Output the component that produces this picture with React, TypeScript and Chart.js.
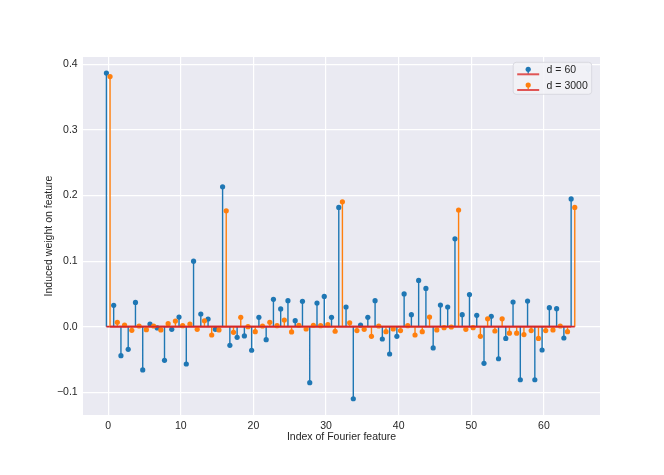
import React, { useEffect, useRef } from "react";
import { Chart, registerables } from "chart.js";

Chart.register(...registerables);

const seriesLabels = ["d = 60", "d = 3000"];
const colors = ["#1f77b4", "#ff7f0e"];
const baselineColor = "#d62728";
const xOffsets = [-0.25, 0.25];

const valuesD60 = [
  0.387, 0.0325, -0.0442, -0.0346, 0.037, -0.066, 0.004, -0.002, -0.0513, -0.004,
  0.0147, -0.057, 0.1, 0.0193, 0.0117, -0.004, 0.2134, -0.0285, -0.0163, -0.0142,
  -0.036, 0.0142, -0.0198, 0.0417, 0.027, 0.0396, 0.0091, 0.0386, -0.0854, 0.036,
  0.0462, 0.0142, 0.182, 0.03, -0.11, 0.0025, 0.0142, 0.0396, -0.0188, -0.0417,
  -0.0147, 0.05, 0.0183, 0.0706, 0.0584, -0.0325, 0.033, 0.03, 0.134, 0.0183,
  0.049, 0.0173, -0.056, 0.0158, -0.049, -0.018, 0.0376, -0.081, 0.039, -0.081,
  -0.0356, 0.029, 0.0274, -0.0173, 0.195,
];

const valuesD3000 = [
  0.3817, 0.0066, 0.0025, -0.0056, 0.001, -0.0046, 0.001, -0.005, 0.0046, 0.0086,
  0.0015, 0.004, -0.004, 0.009, -0.0127, -0.005, 0.1768, -0.0086, 0.0142, 0.0,
  -0.0076, 0.001, 0.0066, 0.0015, 0.0102, -0.0081, 0.002, -0.0036, 0.002, 0.0015,
  0.003, -0.007, 0.1905, 0.006, -0.006, -0.004, -0.0147, 0.001, -0.0076, -0.0036,
  -0.006, 0.0015, -0.0127, -0.0076, 0.0147, -0.005, -0.0015, -0.0005, 0.178, -0.004,
  -0.0015, -0.0147, 0.012, -0.0066, 0.012, -0.01, -0.01, -0.012, -0.006, -0.018,
  -0.006, -0.005, 0.001, -0.0076, 0.182,
];

const xTicks = [0, 10, 20, 30, 40, 50, 60];
const yTicks = [-0.1, 0, 0.1, 0.2, 0.3, 0.4];
const xRange = [-3.475, 67.725];
const yRange = [-0.1348, 0.4115];
const xTitle = "Index of Fourier feature";
const yTitle = "Induced weight on feature";

const FONT = "'Liberation Sans', Arial, sans-serif";
const TEXT = "#262626";

const bgPlugin = {
  id: "axesBg",
  beforeDraw(chart: any) {
    const { ctx, chartArea } = chart;
    ctx.save();
    ctx.fillStyle = "#EAEAF2";
    ctx.fillRect(chartArea.left, chartArea.top, chartArea.right - chartArea.left, chartArea.bottom - chartArea.top);
    ctx.restore();
  },
};

const legendPlugin = {
  id: "stemLegend",
  afterDraw(chart: any) {
    const { ctx, chartArea } = chart;
    const w = 78.5;
    const h = 32;
    const x0 = chartArea.right - 8.3 - w;
    const y0 = chartArea.top + 5.3;
    ctx.save();
    ctx.beginPath();
    ctx.roundRect(x0, y0, w, h, 3);
    ctx.fillStyle = "rgba(242,242,247,0.85)";
    ctx.fill();
    ctx.strokeStyle = "#D3D3DA";
    ctx.lineWidth = 0.8;
    ctx.stroke();
    seriesLabels.forEach((label, i) => {
      const cy = y0 + 8 + i * 15.7;
      const lx0 = x0 + 4;
      const lx1 = x0 + 26;
      const mx = (lx0 + lx1) / 2;
      ctx.strokeStyle = colors[i];
      ctx.lineWidth = 1.3;
      ctx.beginPath();
      ctx.moveTo(mx, cy - 1);
      ctx.lineTo(mx, cy + 4);
      ctx.stroke();
      ctx.strokeStyle = "#e05555";
      ctx.lineWidth = 2;
      ctx.beginPath();
      ctx.moveTo(lx0, cy + 4);
      ctx.lineTo(lx1, cy + 4);
      ctx.stroke();
      ctx.fillStyle = colors[i];
      ctx.beginPath();
      ctx.arc(mx, cy - 1, 2.6, 0, Math.PI * 2);
      ctx.fill();
      ctx.fillStyle = TEXT;
      ctx.font = `10.5px ${FONT}`;
      ctx.textBaseline = "middle";
      ctx.textAlign = "left";
      ctx.fillText(label, x0 + 33.4, cy + 0.3);
    });
    ctx.restore();
  },
};

function fmtY(v: number) {
  const s = Math.abs(v).toFixed(1);
  return v < -1e-9 ? "\u2212" + s : s;
}

export default function App() {
  const ref = useRef<HTMLCanvasElement | null>(null);

  useEffect(() => {
    document.body.style.margin = "0";
    const canvas = ref.current;
    if (!canvas) return;
    Chart.defaults.font.family = FONT;

    const all = [valuesD60, valuesD3000];
    const datasets: any[] = [];
    all.forEach((vals, s) => {
      const base = 6 - s * 3;
      const stemData: any[] = [];
      vals.forEach((v, i) => {
        const x = i + xOffsets[s];
        stemData.push({ x, y: 0 }, { x, y: v }, { x, y: null });
      });
      datasets.push({
        type: "scatter",
        label: seriesLabels[s] + " stems",
        data: stemData,
        showLine: true,
        spanGaps: false,
        borderColor: colors[s],
        borderWidth: 1.4,
        pointRadius: 0,
        pointHoverRadius: 0,
        fill: false,
        order: base,
      });
      datasets.push({
        type: "scatter",
        label: seriesLabels[s],
        data: vals.map((v, i) => ({ x: i + xOffsets[s], y: v })),
        backgroundColor: colors[s],
        borderWidth: 0,
        pointRadius: 2.6,
        pointHoverRadius: 2.6,
        showLine: false,
        order: base - 1,
      });
      datasets.push({
        type: "scatter",
        label: seriesLabels[s] + " baseline",
        data: [
          { x: xOffsets[s], y: 0 },
          { x: vals.length - 1 + xOffsets[s], y: 0 },
        ],
        showLine: true,
        borderColor: baselineColor,
        borderWidth: 1.8,
        pointRadius: 0,
        pointHoverRadius: 0,
        fill: false,
        order: base - 2,
      });
    });

    const chart = new Chart(canvas, {
      type: "scatter",
      data: { datasets },
      options: {
        animation: false,
        responsive: false,
        events: [],
        layout: { padding: { left: 0, top: 57, right: 64, bottom: 0 } },
        plugins: { legend: { display: false }, tooltip: { enabled: false } },
        scales: {
          x: {
            type: "linear",
            min: xRange[0],
            max: xRange[1],
            offset: false,
            afterBuildTicks: (sc: any) => {
              sc.ticks = xTicks.map((v) => ({ value: v }));
            },
            afterFit: (sc: any) => {
              sc.height = 60;
            },
            grid: { color: "#FFFFFF", lineWidth: 1.2, drawTicks: false, offset: false },
            border: { display: false },
            ticks: {
              color: TEXT,
              font: { size: 10.5 },
              padding: 4.5,
              maxRotation: 0,
              autoSkip: false,
              callback: (v: any) => String(v),
            },
            title: {
              display: true,
              text: xTitle,
              color: TEXT,
              font: { size: 10.5 },
              padding: { top: 0, bottom: 31.5 },
            },
          },
          y: {
            type: "linear",
            min: yRange[0],
            max: yRange[1],
            afterBuildTicks: (sc: any) => {
              sc.ticks = yTicks.map((v) => ({ value: v }));
            },
            afterFit: (sc: any) => {
              sc.width = 83;
            },
            grid: { color: "#FFFFFF", lineWidth: 1.2, drawTicks: false },
            border: { display: false },
            ticks: {
              color: TEXT,
              font: { size: 10.5 },
              padding: 5.3,
              autoSkip: false,
              callback: (v: any) => fmtY(Number(v)),
            },
            title: {
              display: true,
              text: yTitle,
              color: TEXT,
              font: { size: 10.5 },
              padding: { top: 42.7, bottom: 0 },
            },
          },
        },
      },
      plugins: [bgPlugin, legendPlugin],
    } as any);

    return () => chart.destroy();
  }, []);

  return (
    <div style={{ width: 664, height: 475, background: "#ffffff" }}>
      <canvas ref={ref} width={664} height={475} style={{ width: 664, height: 475, display: "block" }} />
    </div>
  );
}
